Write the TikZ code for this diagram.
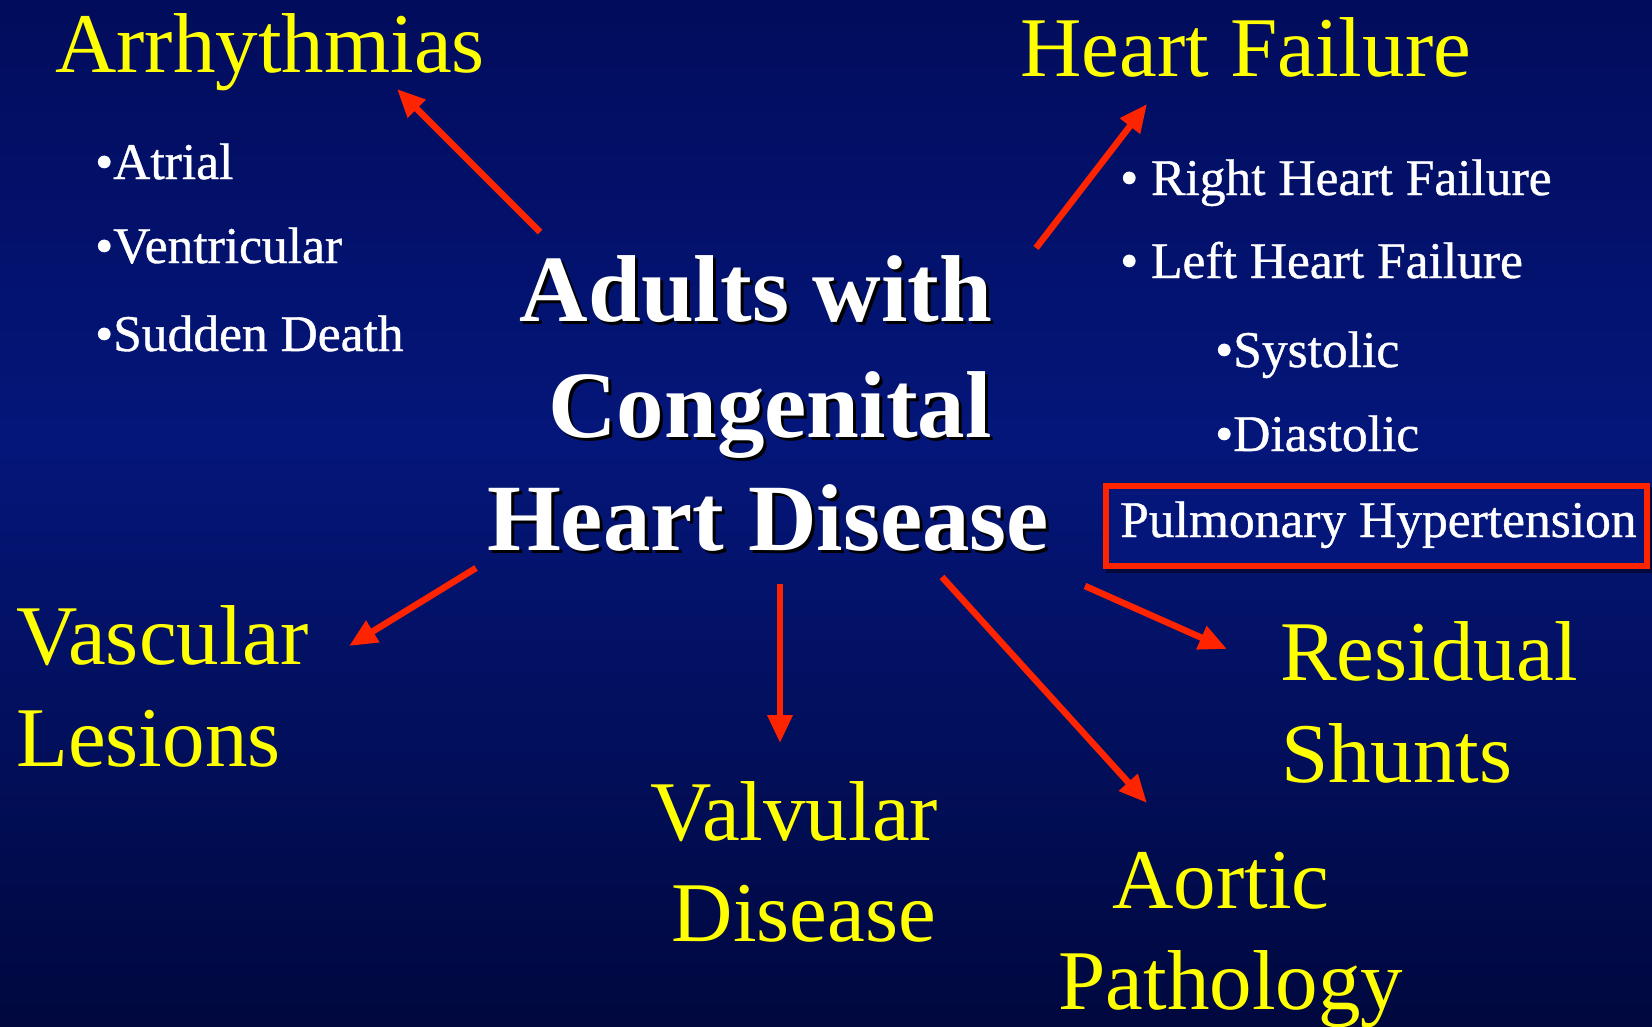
\documentclass[tikz,border=0pt]{standalone}
\usepackage{fontspec}
\setmainfont{Liberation Serif}
\newfontfamily\itemfont[FakeBold=0.8]{Liberation Serif}
\usetikzlibrary{arrows.meta}
\definecolor{bgtop}{RGB}{2,12,92}
\definecolor{bgmid}{RGB}{4,22,122}
\definecolor{bgbot}{RGB}{0,8,62}
\definecolor{arrred}{RGB}{255,36,0}
\definecolor{ylw}{RGB}{255,255,0}
\tikzset{
  big/.style={text=ylw, inner sep=0pt, font=\fontsize{85}{102}\selectfont},
  item/.style={text=white, inner sep=0pt, anchor=base west, font=\itemfont\fontsize{51.5}{60}\selectfont},
  ttl/.style={text=white, inner sep=0pt, anchor=base, font=\fontsize{95}{114}\selectfont\bfseries},
  ttlsh/.style={text=black, inner sep=0pt, anchor=base, font=\fontsize{95}{114}\selectfont\bfseries},
  arr/.style={draw=arrred, line width=6.5pt, -{Triangle[length=28pt,width=24pt]}},
}
\begin{document}
\begin{tikzpicture}[x=1pt,y=-1pt]
\useasboundingbox (0,0) rectangle (1652,1026);
\shade[top color=bgtop, bottom color=bgmid] (0,0) rectangle (1652,440);
\shade[top color=bgmid, bottom color=bgbot] (0,439) rectangle (1652,1026);

% category labels
\node[big, anchor=base west] (arrh) at (55,72) {Arrhythmias};
\node[big, anchor=base west] (hf) at (1020,76) {Heart Failure};
\node[big, anchor=base west] (vasc1) at (16,664) {Vascular};
\node[big, anchor=base west] (vasc2) at (16,766) {Lesions};
\node[big, anchor=base] (valv1) at (794,840) {Valvular};
\node[big, anchor=base] (valv2) at (804,941) {Disease};
\node[big, anchor=base west] (res1) at (1280,680) {Residual};
\node[big, anchor=base west] (res2) at (1281,782) {Shunts};
\node[big, anchor=base] (aort1) at (1221,908) {Aortic};
\node[big, anchor=base] (aort2) at (1231,1009) {Pathology};

% sub items
\node[item] (atr) at (95,179) {•Atrial};
\node[item] (ven) at (95,263) {•Ventricular};
\node[item] (sud) at (95,351) {•Sudden Death};
\node[item] (rhf) at (1120,195) {• Right Heart Failure};
\node[item] (lhf) at (1120,278) {• Left Heart Failure};
\node[item] (sys) at (1215,367) {•Systolic};
\node[item] (dia) at (1215,451) {•Diastolic};
\fill[black, opacity=0.45] (1106,487) rectangle (1652,573);
\draw[arrred, line width=6pt, fill=bgmid] (1106,486) rectangle (1647,566);
\node[item] (ph) at (1120,537) {Pulmonary Hypertension};

% central title with shadow
\node[ttlsh] at (759,324) {Adults with};
\node[ttlsh] at (773,440) {Congenital};
\node[ttlsh] at (771,553) {Heart Disease};
\node[ttl] (t1) at (756,321) {Adults with};
\node[ttl] (t2) at (770,437) {Congenital};
\node[ttl] (t3) at (768,550) {Heart Disease};

% arrow end points
\coordinate (a1s) at (540,232); \coordinate (a1e) at (397,89);
\coordinate (a2s) at (1036,248); \coordinate (a2e) at (1147,104);
\coordinate (a3s) at (476,568); \coordinate (a3e) at (349,646);
\coordinate (a4s) at (780,584); \coordinate (a4e) at (780,743);
\coordinate (a5s) at (942,577); \coordinate (a5e) at (1147,803);
\coordinate (a6s) at (1085,586); \coordinate (a6e) at (1227,649);
\draw[arr] (a1s) -- (a1e);
\draw[arr] (a2s) -- (a2e);
\draw[arr] (a3s) -- (a3e);
\draw[arr] (a4s) -- (a4e);
\draw[arr] (a5s) -- (a5e);
\draw[arr] (a6s) -- (a6e);
\end{tikzpicture}
\end{document}
